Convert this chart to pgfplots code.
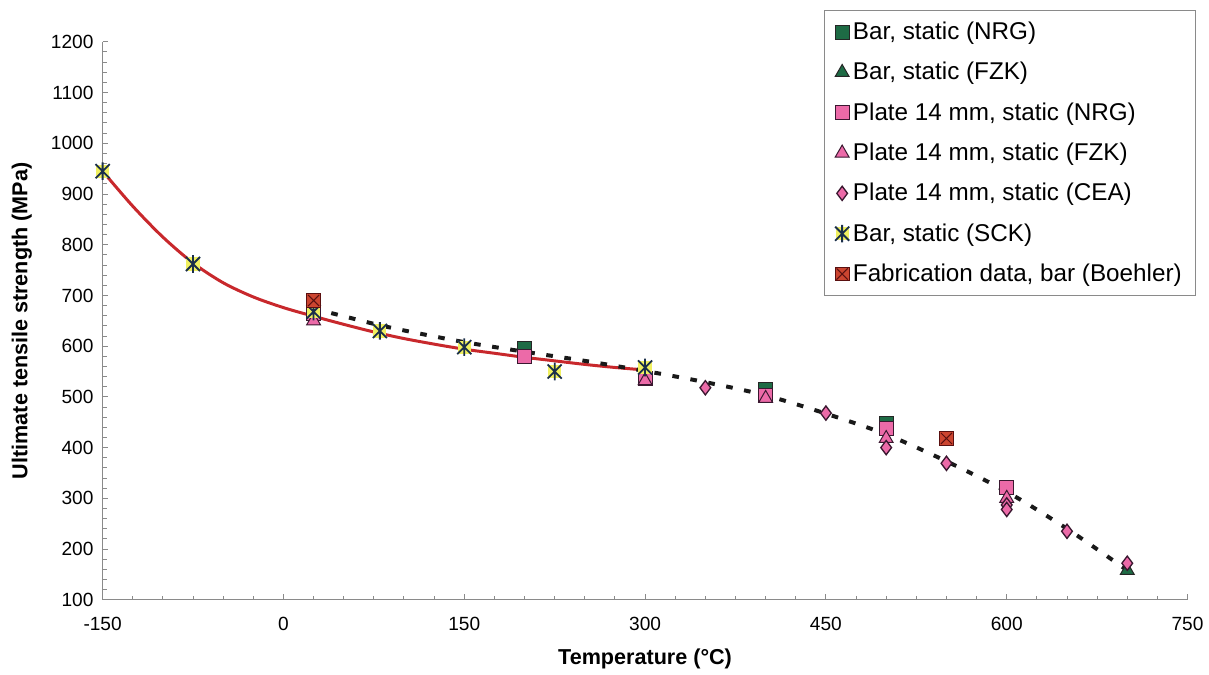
\documentclass[border=0pt]{standalone}
\usepackage{fontspec}
\setmainfont{Liberation Sans}
\usepackage{pgfplots}
\pgfplotsset{compat=1.18}
\definecolor{bargreen}{HTML}{1E6B45}
\definecolor{pinkfill}{HTML}{EC6AA8}
\definecolor{pinkdraw}{HTML}{3A1830}
\definecolor{curvered}{HTML}{C8282C}
\definecolor{sckyellow}{HTML}{F0F060}
\definecolor{sckdark}{HTML}{1B2F4A}
\definecolor{boehred}{HTML}{CC4530}
\definecolor{boehdark}{HTML}{5A1010}
\definecolor{axisgray}{HTML}{8A8A8A}

\pgfdeclareplotmark{sck}{%
  \pgfpathrectangle{\pgfpoint{-0.75\pgfplotmarksize}{-0.75\pgfplotmarksize}}{\pgfpoint{1.5\pgfplotmarksize}{1.5\pgfplotmarksize}}%
  \pgfsetfillcolor{sckyellow}\pgfusepathqfill
  \pgfsetstrokecolor{sckdark}\pgfsetlinewidth{1.1pt}%
  \pgfpathmoveto{\pgfpoint{0pt}{-\pgfplotmarksize}}\pgfpathlineto{\pgfpoint{0pt}{\pgfplotmarksize}}%
  \pgfpathmoveto{\pgfpoint{-0.8\pgfplotmarksize}{-0.8\pgfplotmarksize}}\pgfpathlineto{\pgfpoint{0.8\pgfplotmarksize}{0.8\pgfplotmarksize}}%
  \pgfpathmoveto{\pgfpoint{-0.8\pgfplotmarksize}{0.8\pgfplotmarksize}}\pgfpathlineto{\pgfpoint{0.8\pgfplotmarksize}{-0.8\pgfplotmarksize}}%
  \pgfusepathqstroke
}
\pgfdeclareplotmark{boeh}{%
  \pgfpathrectangle{\pgfpoint{-\pgfplotmarksize}{-\pgfplotmarksize}}{\pgfpoint{2\pgfplotmarksize}{2\pgfplotmarksize}}%
  \pgfsetfillcolor{boehred}\pgfsetstrokecolor{boehdark}\pgfsetlinewidth{0.6pt}%
  \pgfusepath{fill,stroke}%
  \pgfpathmoveto{\pgfpoint{-0.8\pgfplotmarksize}{-0.8\pgfplotmarksize}}\pgfpathlineto{\pgfpoint{0.8\pgfplotmarksize}{0.8\pgfplotmarksize}}%
  \pgfpathmoveto{\pgfpoint{-0.8\pgfplotmarksize}{0.8\pgfplotmarksize}}\pgfpathlineto{\pgfpoint{0.8\pgfplotmarksize}{-0.8\pgfplotmarksize}}%
  \pgfusepathqstroke
}

\begin{document}
\begin{tikzpicture}
\begin{axis}[
  scale only axis,
  width=653.4pt, height=336pt,
  xmin=-150, xmax=750, ymin=100, ymax=1200,
  xtick={-150,0,150,300,450,600,750},
  ytick={100,200,...,1200},
  minor x tick num=5,
  minor y tick num=4,
  axis x line*=bottom, axis y line*=left,
  axis line style={draw=axisgray, line width=0.8pt, -},
  tick style={draw=axisgray, line width=0.6pt},
  tick align=inside,
  major tick length=3.5pt, minor tick length=2.5pt,
  /pgf/number format/assume math mode=true,
  /pgf/number format/1000 sep={},
  ticklabel style={font=\fontsize{11.5}{13}\selectfont},
  xticklabel style={yshift=-7pt},
  yticklabel style={xshift=-2pt},
  xlabel={Temperature (°C)},
  ylabel={Ultimate tensile strength (MPa)},
  label style={font=\fontsize{13}{15}\selectfont\bfseries},
  xlabel style={at={(axis description cs:0.5,-0.1054)}, anchor=center},
  ylabel style={at={(axis description cs:-0.0744,0.5)}, anchor=center},
  legend style={at={(1,1)}, anchor=north east, xshift=4.8pt, yshift=19.2pt,
    draw=axisgray, line width=0.6pt, font=\fontsize{14.6}{16.5}\selectfont,
    row sep=8.2pt, inner xsep=6pt, inner ysep=5pt},
  legend cell align=left,
  legend image code/.code={\draw[#1] plot coordinates {(0.15cm,0cm)};},
  clip=false,
]
% fitted curves
\addplot[curvered, line width=1.8pt, smooth, forget plot] coordinates {
 (-150,945) (-125,876) (-100,815) (-75,764) (-50,725) (-25,697) (0,676)
 (25,659) (50,643) (75,628) (100,615) (125,604) (150,594) (175,586)
 (200,578) (225,571) (250,564) (275,558) (300,553)};
\addplot[black!90, line width=2.4pt, smooth, dash pattern=on 4pt off 7pt, forget plot] coordinates {
 (25,674) (50,659) (75,644) (100,631) (150,608) (200,589) (250,571)
 (300,551) (350,529) (400,503) (450,467) (500,426) (550,373) (600,313)
 (650,240) (700,158)};
% data
\addplot[only marks, mark=square*, mark size=4.2pt, mark options={fill=bargreen, draw=black!85, line width=0.6pt}]
 coordinates {(25,672) (200,595) (400,515) (500,447)};
\addlegendentry{Bar, static (NRG)}
\addplot[only marks, mark=triangle*, mark size=4.8pt, mark options={fill=bargreen, draw=black!85, line width=0.6pt}]
 coordinates {(700,158)};
\addlegendentry{Bar, static (FZK)}
\addplot[only marks, mark=square*, mark size=4.2pt, mark options={fill=pinkfill, draw=pinkdraw, line width=0.6pt}]
 coordinates {(25,665) (200,580) (300,537) (400,503) (500,438) (600,322)};
\addlegendentry{Plate 14 mm, static (NRG)}
\addplot[only marks, mark=triangle*, mark size=4.8pt, mark options={fill=pinkfill, draw=pinkdraw, line width=0.6pt}]
 coordinates {(25,650) (300,532) (400,497) (500,418) (600,300)};
\addlegendentry{Plate 14 mm, static (FZK)}
\addplot[only marks, mark=diamond*, mark size=4.3pt, mark options={fill=pinkfill, draw=pinkdraw, line width=0.8pt}]
 coordinates {(350,518) (450,468) (500,400) (550,369) (600,287) (600,278) (650,235) (700,172)};
\addlegendentry{Plate 14 mm, static (CEA)}
\addplot[only marks, mark=sck, mark size=5.3pt]
 coordinates {(-150,945) (-75,762) (25,668) (80,630) (150,598) (225,550) (300,558)};
\addlegendentry{Bar, static (SCK)}
\addplot[only marks, mark=boeh, mark size=4.2pt]
 coordinates {(25,690) (550,418)};
\addlegendentry{Fabrication data, bar (Boehler)}
\coordinate (O) at (rel axis cs:0,0);
\end{axis}
\path (O) ++(-61.8pt,-43.2pt) rectangle ++(725.4pt,404.4pt);
\end{tikzpicture}
\end{document}
